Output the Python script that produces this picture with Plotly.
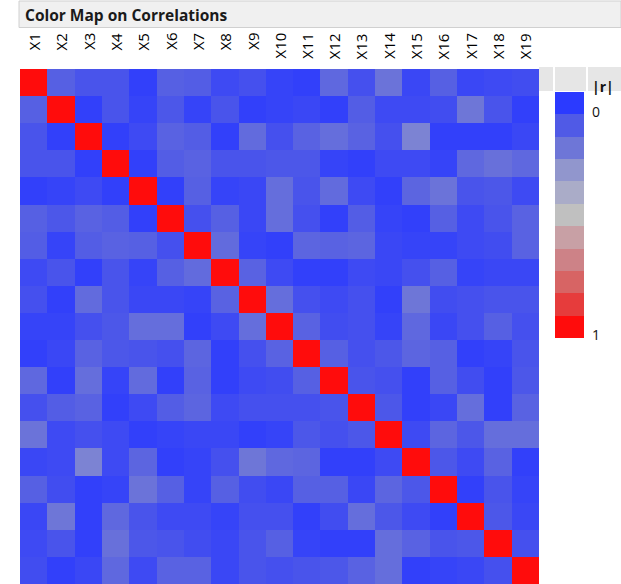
import plotly.graph_objects as go

labels = [f"X{i}" for i in range(1, 20)]

# |r| values (symmetric, diagonal = 1)
r01 = [1.00, 0.12, 0.08, 0.08, 0.02, 0.12, 0.11, 0.05, 0.07, 0.03, 0.02, 0.15, 0.07, 0.19, 0.04, 0.12, 0.04, 0.05, 0.06]
r02 = [0.12, 1.00, 0.02, 0.08, 0.03, 0.09, 0.03, 0.08, 0.02, 0.03, 0.04, 0.02, 0.11, 0.05, 0.05, 0.06, 0.20, 0.08, 0.02]
r03 = [0.08, 0.02, 1.00, 0.02, 0.05, 0.13, 0.11, 0.02, 0.16, 0.07, 0.13, 0.17, 0.13, 0.07, 0.24, 0.02, 0.02, 0.02, 0.04]
r04 = [0.08, 0.08, 0.02, 1.00, 0.02, 0.11, 0.13, 0.08, 0.08, 0.09, 0.09, 0.03, 0.02, 0.05, 0.05, 0.03, 0.15, 0.18, 0.15]
r05 = [0.02, 0.03, 0.05, 0.02, 1.00, 0.02, 0.12, 0.03, 0.04, 0.17, 0.08, 0.16, 0.05, 0.02, 0.14, 0.19, 0.08, 0.09, 0.05]
r06 = [0.12, 0.09, 0.13, 0.11, 0.02, 1.00, 0.07, 0.12, 0.04, 0.17, 0.07, 0.02, 0.11, 0.03, 0.02, 0.12, 0.05, 0.08, 0.13]
r07 = [0.11, 0.03, 0.11, 0.13, 0.12, 0.07, 1.00, 0.16, 0.03, 0.02, 0.14, 0.13, 0.14, 0.04, 0.03, 0.03, 0.05, 0.06, 0.13]
r08 = [0.05, 0.08, 0.02, 0.08, 0.03, 0.12, 0.16, 1.00, 0.13, 0.05, 0.02, 0.02, 0.05, 0.04, 0.07, 0.12, 0.03, 0.04, 0.04]
r09 = [0.07, 0.02, 0.16, 0.08, 0.04, 0.04, 0.03, 0.13, 1.00, 0.17, 0.07, 0.05, 0.07, 0.02, 0.20, 0.06, 0.07, 0.08, 0.08]
r10 = [0.03, 0.03, 0.07, 0.09, 0.17, 0.17, 0.02, 0.05, 0.17, 1.00, 0.13, 0.06, 0.07, 0.03, 0.15, 0.04, 0.07, 0.12, 0.07]
r11 = [0.02, 0.04, 0.13, 0.09, 0.08, 0.07, 0.14, 0.02, 0.07, 0.13, 1.00, 0.12, 0.07, 0.09, 0.14, 0.12, 0.02, 0.03, 0.08]
r12 = [0.15, 0.02, 0.17, 0.03, 0.16, 0.02, 0.13, 0.02, 0.05, 0.06, 0.12, 1.00, 0.08, 0.07, 0.02, 0.12, 0.06, 0.02, 0.09]
r13 = [0.07, 0.11, 0.13, 0.02, 0.05, 0.11, 0.14, 0.05, 0.07, 0.07, 0.07, 0.08, 1.00, 0.09, 0.02, 0.04, 0.17, 0.02, 0.13]
r14 = [0.19, 0.05, 0.07, 0.05, 0.02, 0.03, 0.04, 0.04, 0.02, 0.03, 0.09, 0.07, 0.09, 1.00, 0.05, 0.14, 0.09, 0.17, 0.17]
r15 = [0.04, 0.05, 0.24, 0.05, 0.14, 0.02, 0.03, 0.07, 0.20, 0.15, 0.14, 0.02, 0.02, 0.05, 1.00, 0.09, 0.05, 0.13, 0.02]
r16 = [0.12, 0.06, 0.02, 0.03, 0.19, 0.12, 0.03, 0.12, 0.06, 0.04, 0.12, 0.12, 0.04, 0.14, 0.09, 1.00, 0.02, 0.08, 0.03]
r17 = [0.04, 0.20, 0.02, 0.15, 0.08, 0.05, 0.05, 0.03, 0.07, 0.07, 0.02, 0.06, 0.17, 0.09, 0.05, 0.02, 1.00, 0.09, 0.04]
r18 = [0.05, 0.08, 0.02, 0.18, 0.09, 0.08, 0.06, 0.04, 0.08, 0.12, 0.03, 0.02, 0.02, 0.17, 0.13, 0.08, 0.09, 1.00, 0.07]
r19 = [0.06, 0.02, 0.04, 0.15, 0.05, 0.13, 0.13, 0.04, 0.08, 0.07, 0.08, 0.09, 0.13, 0.17, 0.02, 0.03, 0.04, 0.07, 1.00]
corr = [r01, r02, r03, r04, r05, r06, r07, r08, r09, r10,
        r11, r12, r13, r14, r15, r16, r17, r18, r19]

legend_levels = [0.0, 0.1, 0.2, 0.3, 0.4, 0.5, 0.6, 0.7, 0.8, 0.9, 1.0]
legend_colors = ["rgb(43,58,255)", "rgb(80,90,230)", "rgb(110,118,215)",
                 "rgb(145,150,205)", "rgb(170,172,200)", "rgb(192,192,192)",
                 "rgb(200,160,165)", "rgb(205,130,135)", "rgb(215,100,100)",
                 "rgb(230,60,60)", "rgb(255,12,12)"]
colorscale = [[v, c] for v, c in zip(legend_levels, legend_colors)]

W, H = 621, 584
def px(x):
    return x / W
def py(y):
    return 1 - y / H

FONT = "Open Sans, Noto Sans, sans-serif"

fig = go.Figure()
fig.add_trace(go.Heatmap(
    z=corr, x=labels, y=labels, colorscale=colorscale, zmin=0, zmax=1,
    showscale=False, xaxis="x", yaxis="y", hoverinfo="x+y+z"))
fig.add_trace(go.Heatmap(
    z=[[v] for v in legend_levels], x=["|r|"], y=[str(v) for v in legend_levels],
    colorscale=colorscale, zmin=0, zmax=1, showscale=False,
    xaxis="x2", yaxis="y2", hoverinfo="z"))

hidden = dict(showticklabels=False, showgrid=False, zeroline=False,
              ticks="", showline=False, fixedrange=True)
fig.update_layout(
    width=W, height=H, margin=dict(l=0, r=0, t=0, b=0),
    paper_bgcolor="white", plot_bgcolor="white",
    font=dict(family=FONT, color="#111111"),
    xaxis=dict(domain=[px(20), px(539)], anchor="y", **hidden),
    yaxis=dict(domain=[0, py(69)], anchor="x", autorange="reversed", **hidden),
    xaxis2=dict(domain=[px(555), px(584)], anchor="y2", **hidden),
    yaxis2=dict(domain=[py(338), py(92)], anchor="x2", autorange="reversed", **hidden),
)

shapes = [
    dict(type="rect", xref="paper", yref="paper", x0=px(19), x1=1.0,
         y0=py(27.5), y1=py(1), fillcolor="#f0f0f0",
         line=dict(color="#d0d0d0", width=1), layer="below"),
]
for x0, x1 in [(539, 553), (555, 586), (588, 621)]:
    shapes.append(dict(type="rect", xref="paper", yref="paper",
                       x0=px(x0), x1=px(x1), y0=py(91), y1=py(67),
                       fillcolor="#e6e6e6", line=dict(width=0), layer="below"))
fig.update_layout(shapes=shapes)

ann = [
    dict(text="<b>Color Map on Correlations</b>", xref="paper", yref="paper",
         x=px(23), y=py(15), xanchor="left", yanchor="middle", showarrow=False,
         font=dict(size=15.5, color="#1a1a1a", family=FONT)),
    dict(text="<b>|r|</b>", xref="paper", yref="paper", x=px(590), y=py(86),
         xanchor="left", yanchor="middle", showarrow=False,
         font=dict(size=14, color="#111111", family=FONT)),
    dict(text="0", xref="paper", yref="paper", x=px(590), y=py(111),
         xanchor="left", yanchor="middle", showarrow=False,
         font=dict(size=14, color="#111111", family=FONT)),
    dict(text="1", xref="paper", yref="paper", x=px(590), y=py(334),
         xanchor="left", yanchor="middle", showarrow=False,
         font=dict(size=14, color="#111111", family=FONT)),
]
for lab in labels:
    ann.append(dict(text=lab, xref="x", yref="paper", x=lab, y=py(31),
                    xanchor="center", yanchor="top", textangle=-90,
                    showarrow=False,
                    font=dict(size=15, color="#000000", family=FONT)))
fig.update_layout(annotations=ann)

fig.write_html("out.html")
